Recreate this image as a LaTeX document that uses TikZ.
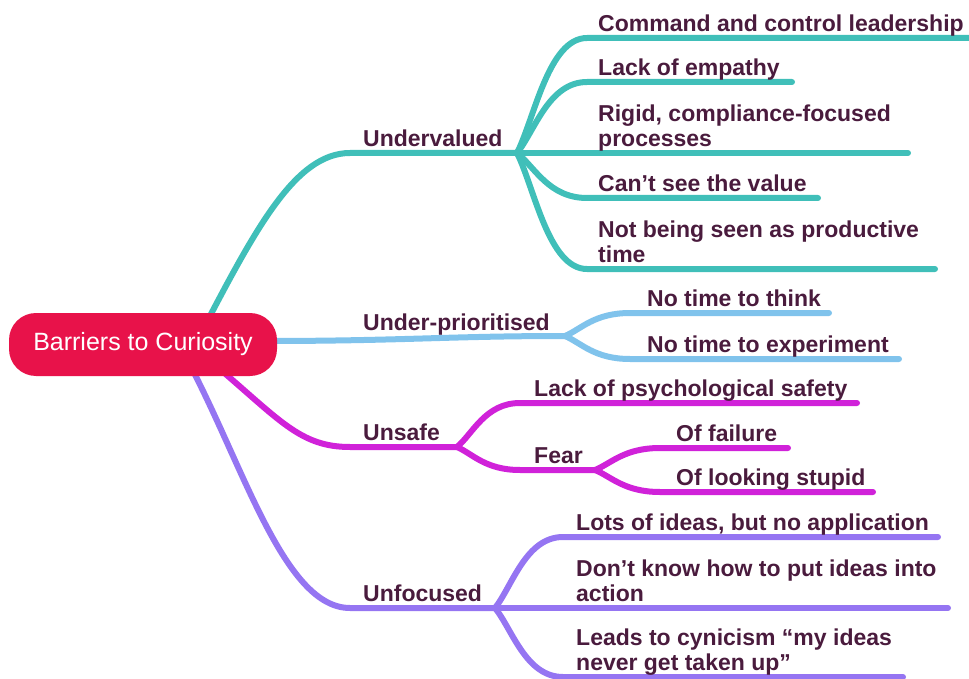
\documentclass[tikz,border=0pt]{standalone}
\usepackage{fontspec}
\setmainfont{Liberation Sans}
\usetikzlibrary{calc,backgrounds}

\definecolor{ink}{HTML}{4A1B3D}
\definecolor{rootred}{HTML}{E8124A}
\definecolor{cTeal}{HTML}{40BFB9}
\definecolor{cBlue}{HTML}{80C3EC}
\definecolor{cMagenta}{HTML}{D022D9}
\definecolor{cPurple}{HTML}{9575F2}

\begin{document}
\begin{tikzpicture}[x=1pt,y=-1pt,
  branch/.style={line width=6pt, line cap=round, line join=round},
  leaf/.style={anchor=base west, inner sep=0pt, text=ink,
    font=\bfseries\fontsize{23}{25}\selectfont, align=left},
  rootbox/.style={fill=rootred, text=white, rounded corners=27pt,
    minimum width=268pt, minimum height=63pt, inner sep=0pt,
    font=\fontsize{25}{30}\selectfont},
  curveto/.style={to path={let \p1=(\tikztostart), \p2=(\tikztotarget) in
    .. controls ({\x1+0.25*((\x2)-(\x1))},{\y1+0.3*((\y2)-(\y1))})
       and ({\x1+0.45*((\x2)-(\x1))},{\y2}) .. (\tikztotarget)}}
]
\useasboundingbox (0,0) rectangle (969,679);

% central topic
\node[rootbox] (root) at (143,344.5) {Barriers to Curiosity};

% ---------- branch anchor points ----------
\coordinate (tS) at (200,335);   % teal start (under root)
\coordinate (bS) at (265,341);   % blue start
\coordinate (mS) at (215,365);   % magenta start
\coordinate (pS) at (190,365);   % purple start

% Undervalued
\coordinate (uvA) at (350,153); \coordinate (uvB) at (517,153);
\coordinate (u1s) at (587,38);  \coordinate (u1e) at (975,38);
\coordinate (u2s) at (587,82);  \coordinate (u2e) at (792,82);
\coordinate (u3s) at (587,153); \coordinate (u3e) at (908,153);
\coordinate (u4s) at (587,198); \coordinate (u4e) at (818,198);
\coordinate (u5s) at (587,269); \coordinate (u5e) at (935,269);

% Under-prioritised
\coordinate (upB) at (565,336);
\coordinate (p1s) at (630,313); \coordinate (p1e) at (829,313);
\coordinate (p2s) at (630,359); \coordinate (p2e) at (899,359);

% Unsafe
\coordinate (usA) at (350,447); \coordinate (usB) at (457,447);
\coordinate (s1s) at (520,403); \coordinate (s1e) at (857,403);
\coordinate (s2s) at (520,470); \coordinate (s2e) at (595,470);
\coordinate (f1s) at (660,448); \coordinate (f1e) at (788,448);
\coordinate (f2s) at (660,492); \coordinate (f2e) at (873,492);

% Unfocused
\coordinate (ufA) at (350,608); \coordinate (ufB) at (495,608);
\coordinate (q1s) at (563,537); \coordinate (q1e) at (938,537);
\coordinate (q2s) at (563,608); \coordinate (q2e) at (948,608);
\coordinate (q3s) at (563,677); \coordinate (q3e) at (903,677);

% ---------- connectors ----------
\begin{scope}[on background layer]
  % teal
  \draw[branch,cTeal] (tS) .. controls (255,230) and (295,153) .. (uvA) -- (uvB);
  \draw[branch,cTeal] (uvB) to[curveto] (u1s) -- (u1e);
  \draw[branch,cTeal] (uvB) to[curveto] (u2s) -- (u2e);
  \draw[branch,cTeal] (uvB) -- (u3s) -- (u3e);
  \draw[branch,cTeal] (uvB) to[curveto] (u4s) -- (u4e);
  \draw[branch,cTeal] (uvB) to[curveto] (u5s) -- (u5e);
  % blue
  \draw[branch,cBlue] (bS) .. controls (400,341) and (450,336) .. (upB);
  \draw[branch,cBlue] (upB) to[curveto] (p1s) -- (p1e);
  \draw[branch,cBlue] (upB) to[curveto] (p2s) -- (p2e);
  % magenta
  \draw[branch,cMagenta] (mS) .. controls (280,420) and (300,447) .. (usA) -- (usB);
  \draw[branch,cMagenta] (usB) to[curveto] (s1s) -- (s1e);
  \draw[branch,cMagenta] (usB) to[curveto] (s2s) -- (s2e);
  \draw[branch,cMagenta] (s2e) to[curveto] (f1s) -- (f1e);
  \draw[branch,cMagenta] (s2e) to[curveto] (f2s) -- (f2e);
  % purple
  \draw[branch,cPurple] (pS) .. controls (245,470) and (285,608) .. (ufA) -- (ufB);
  \draw[branch,cPurple] (ufB) to[curveto] (q1s) -- (q1e);
  \draw[branch,cPurple] (ufB) -- (q2s) -- (q2e);
  \draw[branch,cPurple] (ufB) to[curveto] (q3s) -- (q3e);
\end{scope}

% ---------- labels (two-line labels are placed by their last baseline) ----------
\node[leaf] (lUV) at (363,146.5) {Undervalued};
\node[leaf] (lUP) at (363,330.5) {Under-prioritised};
\node[leaf] (lUS) at (363,440.5) {Unsafe};
\node[leaf] (lUF) at (363,601.5) {Unfocused};

\node[leaf] (lU1) at (598,31.5)  {Command and control leadership};
\node[leaf] (lU2) at (598,75.5)  {Lack of empathy};
\node[leaf] (lU3) at (598,146.5) {Rigid, compliance-focused\\processes};
\node[leaf] (lU4) at (598,191.5) {Can’t see the value};
\node[leaf] (lU5) at (598,262.5) {Not being seen as productive\\time};

\node[leaf] (lP1) at (647,306.5) {No time to think};
\node[leaf] (lP2) at (647,352.5) {No time to experiment};

\node[leaf] (lS1) at (534,396.5) {Lack of psychological safety};
\node[leaf] (lS2) at (534,463.5) {Fear};
\node[leaf] (lF1) at (676,441.5) {Of failure};
\node[leaf] (lF2) at (676,485.5) {Of looking stupid};

\node[leaf] (lQ1) at (576,530.5) {Lots of ideas, but no application};
\node[leaf] (lQ2) at (576,601.5) {Don’t know how to put ideas into\\action};
\node[leaf] (lQ3) at (576,670.5) {Leads to cynicism “my ideas\\never get taken up”};
\end{tikzpicture}
\end{document}
